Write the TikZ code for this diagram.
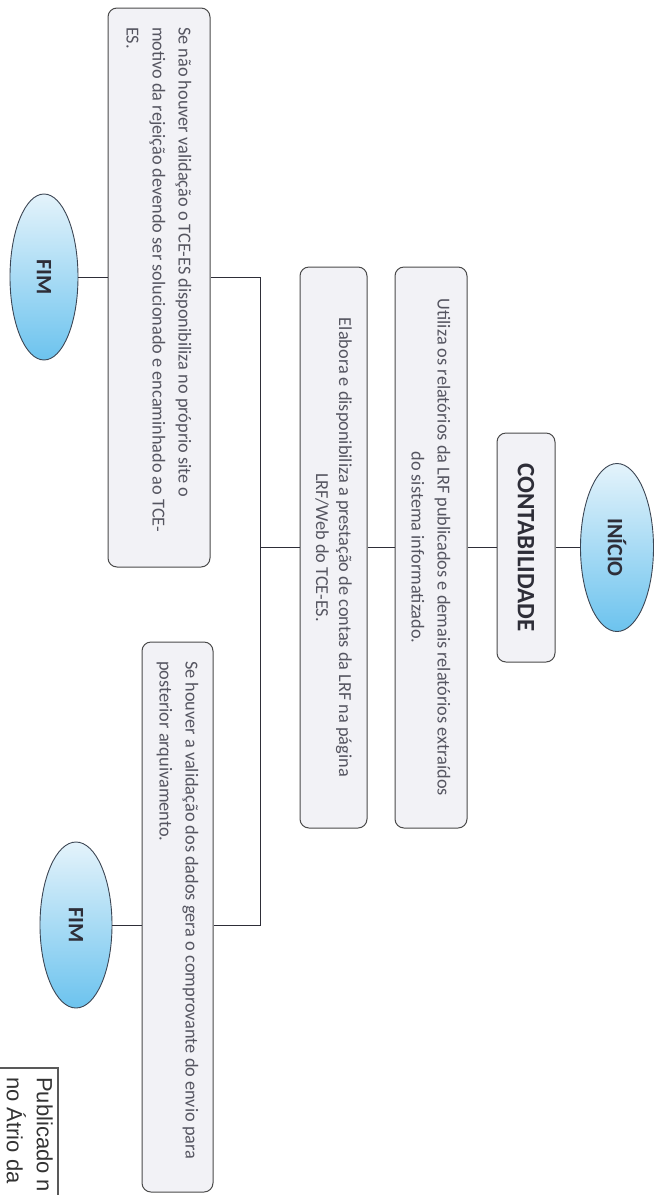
\documentclass[tikz,border=0pt]{standalone}
\usepackage{fontspec}
\setmainfont{Carlito}
\newfontfamily\stampfont{Liberation Sans}
\usetikzlibrary{shapes.geometric}

\definecolor{edgecol}{HTML}{4A4A4A}
\definecolor{boxfill}{HTML}{F2F2F6}
\definecolor{bodycol}{HTML}{555560}
\definecolor{titlecol}{HTML}{2E2E38}
\definecolor{blueTop}{HTML}{E4F3FB}
\definecolor{blueBot}{HTML}{6CC3EE}
\definecolor{ringcol}{HTML}{3C4654}

\begin{document}
\begin{tikzpicture}[
    x=1pt, y=-1pt,
    % elipses de início e fim (texto de cima para baixo)
    terminal/.style={ellipse, draw=ringcol, line width=0.9pt, rotate=-90,
        top color=blueTop, bottom color=blueBot, inner sep=0pt,
        minimum width=166pt, minimum height=70pt, text=titlecol,
        font=\fontsize{22}{26}\selectfont\bfseries},
    % caixas arredondadas
    card/.style={draw=edgecol, line width=1pt, rounded corners=9pt,
        fill=boxfill, rotate=-90, inner sep=0pt, text=bodycol,
        font=\fontsize{18.3}{26}\selectfont},
    % caixa do título
    titlebox/.style={card, text=titlecol, font=\fontsize{25}{28}\selectfont\bfseries},
    % caixas centrais
    stepbox/.style={card, align=center, minimum width=561pt},
    % caixas das condições (texto à esquerda)
    notebox/.style={card, align=flush left, inner xsep=19pt},
    % ligações
    link/.style={draw=titlecol, line width=1pt},
    % carimbo
    stampline/.style={draw=black!65, line width=2pt}
]

    \useasboundingbox (0,0) rectangle (656,1195);

    % 1. eixo comum das caixas centrais
    \def\midY{547.5}

    % 2. início e contabilidade
    \node[terminal, minimum width=168pt, minimum height=73pt] (inicio) at (617,\midY) {INÍCIO};
    \node[titlebox, minimum width=229pt, minimum height=58pt] (conta) at (526,\midY) {CONTABILIDADE};

    % 3. caixas centrais
    \node[stepbox, minimum height=72pt] (utiliza) at (431,\midY)
        {Utiliza os relatórios da LRF publicados e demais relatórios extraídos\\ do sistema informatizado.};
    \node[stepbox, minimum height=67pt, font=\fontsize{18.3}{23}\selectfont] (elabora) at (333.5,\midY)
        {Elabora e disponibiliza a prestação de contas da LRF na página\\ LRF/Web do TCE-ES.};

    % 4. ponto de ramificação
    \coordinate (jn) at (260,\midY);

    % 5. fins
    \node[terminal, minimum height=68pt] (fimA) at (44,277) {FIM};
    \node[terminal, minimum height=72pt] (fimB) at (76,925) {FIM};

    % 6. caixas das condições
    \node[notebox, text width=521pt, minimum height=102pt] (naohouver) at (159,287.5)
        {Se não houver validação o TCE-ES disponibiliza no próprio site o\\
         motivo da rejeição devendo ser solucionado e encaminhado ao TCE-\\
         ES.};
    \node[notebox, text width=512pt, minimum height=71pt] (houver) at (177.5,917)
        {Se houver a validação dos dados gera o comprovante do envio para\\
         posterior arquivamento.};

    % 7. ligações
    \draw[link] (inicio.south) -- (conta.north);
    \draw[link] (conta.south) -- (utiliza.north);
    \draw[link] (utiliza.south) -- (elabora.north);
    \draw[link] (elabora.south) -- (jn);
    \draw[link] (jn) |- (naohouver.north |- fimA.center);
    \draw[link] (jn) |- (houver.north |- fimB.center);
    \draw[link] (fimA.north) -- (fimA.north -| naohouver.south);
    \draw[link] (fimB.north) -- (fimB.north -| houver.south);

    % 8. carimbo no canto
    \draw[stampline] (-5,1068) -- (58,1068) -- (58,1200);
    \node[rotate=-90, anchor=north west, align=left, inner sep=0pt, text=black!80,
          font=\stampfont\fontsize{22}{30}\selectfont] (stamp) at (53,1077)
        {Publicado n\\ no Átrio da};

\end{tikzpicture}
\end{document}
